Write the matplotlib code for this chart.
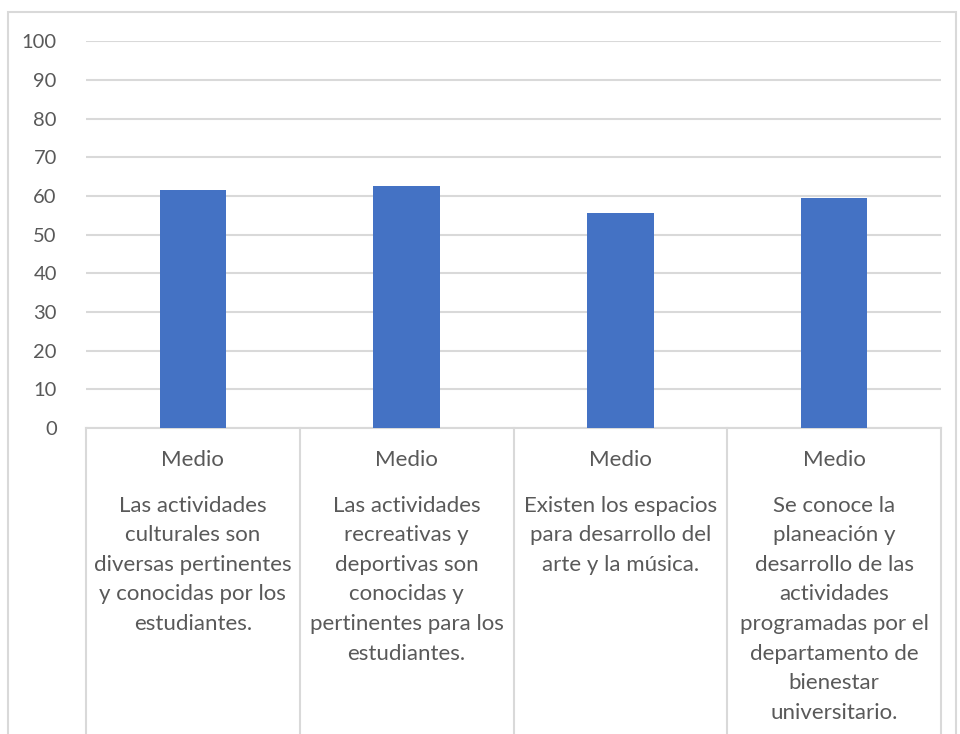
import matplotlib.pyplot as plt
from matplotlib.patches import Rectangle

# Values
levels = ['Medio', 'Medio', 'Medio', 'Medio']
descriptions = [
    'Las actividades\nculturales son\ndiversas pertinentes\ny conocidas por los\nestudiantes.',
    'Las actividades\nrecreativas y\ndeportivas son\nconocidas y\npertinentes para los\nestudiantes.',
    'Existen los espacios\npara desarrollo del\narte y la música.',
    'Se conoce la\nplaneación y\ndesarrollo de las\nactividades\nprogramadas por el\ndepartamento de\nbienestar\nuniversitario.',
]
values = [61.6, 62.6, 55.6, 59.6]
yticks = list(range(0, 101, 10))

plt.rcParams['font.family'] = ['Lato', 'DejaVu Sans']
text_col = '#595959'
grid_col = '#d9d9d9'

fig = plt.figure(figsize=(9.6, 7.34), dpi=100)
ax = fig.add_axes([86 / 960, 1 - 428 / 734, (941 - 86) / 960, (428 - 41.5) / 734])

# outer chart border
fig.patches.append(Rectangle((8 / 960, -0.1), (956 - 8) / 960, 1 - 12 / 734 + 0.1,
                             transform=fig.transFigure, fill=False,
                             edgecolor=grid_col, linewidth=1.5))

x = list(range(len(values)))
ax.bar(x, values, width=0.31, color='#4472c4', zorder=3)

ax.set_ylim(0, 100)
ax.set_xlim(-0.5, len(values) - 0.5)
ax.set_yticks(yticks)
ax.set_yticklabels([str(t) for t in yticks], fontsize=14.5, color=text_col)
ax.set_xticks([])
ax.tick_params(axis='y', length=0, pad=21)
ax.yaxis.grid(True, color=grid_col, linewidth=1.5, zorder=0)
for s in ['top', 'right', 'left']:
    ax.spines[s].set_visible(False)
ax.spines['bottom'].set_color(grid_col)
ax.spines['bottom'].set_linewidth(1.5)

# category boxes below the axis
trans = ax.get_xaxis_transform()
for b in [i - 0.5 for i in range(len(values) + 1)]:
    ax.plot([b, b], [0, -0.9], transform=trans, color=grid_col,
            linewidth=1.5, clip_on=False)

for i, (lvl, desc) in enumerate(zip(levels, descriptions)):
    ax.text(i, -0.083, lvl, transform=trans, ha='center', va='center',
            fontsize=16, color=text_col)
    ax.text(i, -0.175, desc, transform=trans, ha='center', va='top',
            fontsize=16, color=text_col, linespacing=1.6)

plt.savefig('out.png', dpi=100)
